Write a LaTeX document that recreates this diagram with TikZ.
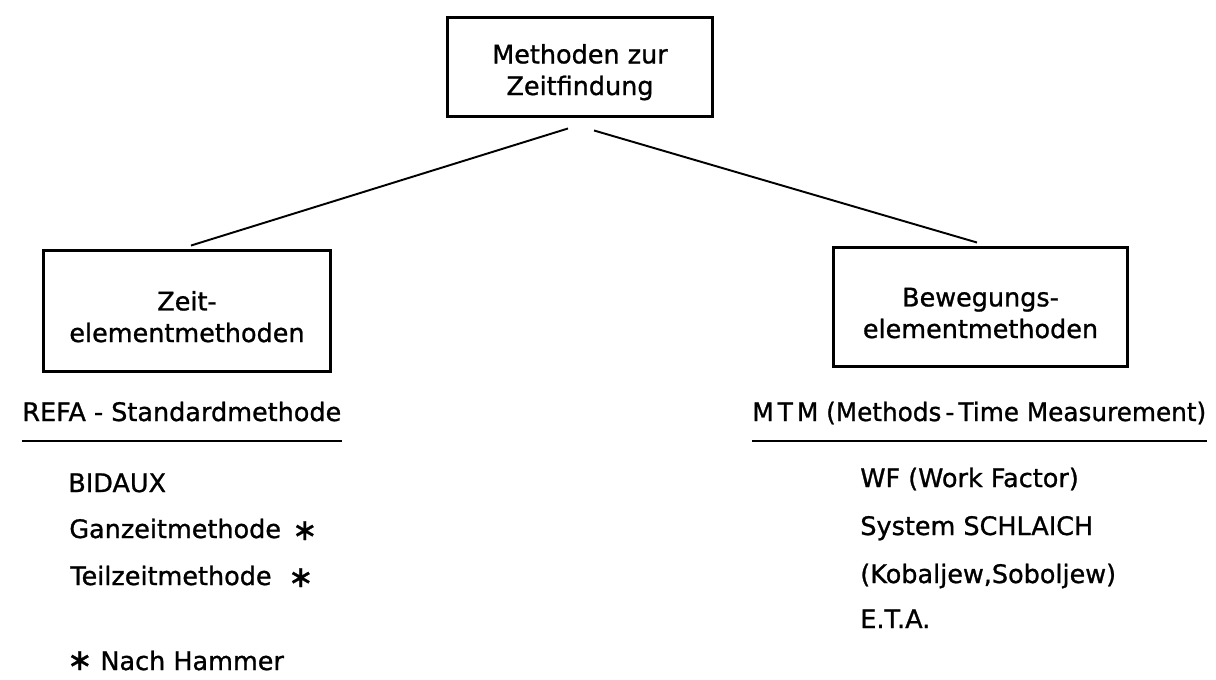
\documentclass[tikz,border=0pt]{standalone}
\usepackage{fontspec}
\setmainfont{DejaVu Sans}[FakeBold=1]
\usetikzlibrary{calc}
\newcommand{\starmark}{{\fontsize{17}{17}\selectfont ∗}}
\begin{document}
\begin{tikzpicture}[x=0.02cm,y=-0.02cm,
  box/.style={draw,line width=1.7pt,rectangle,inner sep=0pt},
  boxtext/.style={align=center,inner sep=0pt,font=\fontsize{14.5}{18}\selectfont},
  link/.style={line width=1.1pt},
  entry/.style={anchor=base west,inner sep=0pt,font=\fontsize{14.5}{16}\selectfont},
  uline/.style={line width=1.3pt}]
\useasboundingbox[fill=white] (0,0) rectangle (1216,679);

% boxes of the hierarchy (text anchored at the baseline of its last line)
\node[box,minimum width=5.32cm,minimum height=2cm] (top) at (580,67) {};
\node[boxtext,anchor=base] (toptext) at (580,95) {Methoden zur\\Zeitfindung};
\node[box,minimum width=5.76cm,minimum height=2.44cm] (zeit) at (187,311) {};
\node[boxtext,anchor=base] (zeittext) at (187,342) {Zeit-\\elementmethoden};
\node[box,minimum width=5.9cm,minimum height=2.4cm] (beweg) at (980.5,307) {};
\node[boxtext,anchor=base] (bewegtext) at (980.5,338) {Bewegungs-\\elementmethoden};

% connectors
\draw[link] ([shift={(-12,10)}]top.south) -- ([shift={(4,-3)}]zeit.north);
\draw[link] ([shift={(14,12)}]top.south) -- ([shift={(-3.5,-3)}]beweg.north);

% left column
\node[entry] (refa) at (22,421) {REFA - Standardmethode};
\draw[uline] ([shift={(0,20)}]refa.base west) -- ([shift={(0,20)}]refa.base east);
\node[entry] (bidaux) at (68,492) {BIDAUX};
\node[entry] (ganz) at (69,538) {Ganzeitmethode};
\node[entry] (ganzs) at (292,540) {\starmark};
\node[entry] (teil) at (70,585) {Teilzeitmethode};
\node[entry] (teils) at (288,587) {\starmark};
\node[entry] (hammer) at (67,670) {\starmark\ Nach Hammer};

% right column
\node[entry] (mtm) at (752,421) {\scalebox{0.97}[1]{M\,T\,M (Methods\,-\,Time Measurement)}};
\draw[uline] ([shift={(0,20)}]mtm.base west) -- ([shift={(0,20)}]mtm.base east);
\node[entry] (wf) at (860,487) {WF (Work Factor)};
\node[entry] (schl) at (860,535) {System SCHLAICH};
\node[entry] (kob) at (860,583) {(Kobaljew,Soboljew)};
\node[entry] (eta) at (860,628) {E.T.A.};
\end{tikzpicture}
\end{document}
